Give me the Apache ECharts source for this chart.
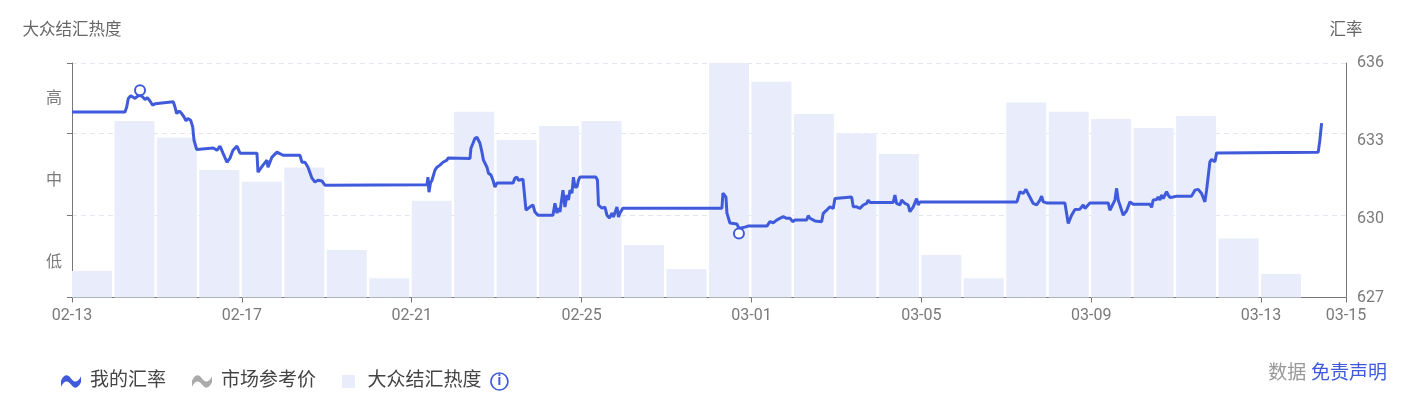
<!DOCTYPE html>
<html><head><meta charset="utf-8">
<script src="https://cdn.jsdelivr.net/npm/echarts@6/dist/echarts.min.js"></script>
<style>html,body{margin:0;padding:0;background:#fff}#c{width:1416px;height:396px}</style>
</head><body><div id="c"></div>
<script>
// ---- data ----
const heatDates = ['02-13','02-14','02-15','02-16','02-17','02-18','02-19','02-20','02-21','02-22','02-23','02-24','02-25','02-26','02-27','02-28',
  '03-01','03-02','03-03','03-04','03-05','03-06','03-07','03-08','03-09','03-10','03-11','03-12','03-13'];
const heatValues = [11.3,75.3,68.2,54.4,49.4,55.4,20.3,8.2,41.3,79.2,67.2,73.1,75.3,22.4,12.2,100,
  92.0,78.3,70.0,61.2,18.1,8.2,83.2,79.2,76.1,72.3,77.4,25.2,10.0];
const heatLevels = ['低','中','高'];
const heatLevelValues = [14.7, 49.7, 84.7];

const rateTimes = [
 '02-13 00:00','02-14 05:57','02-14 06:55','02-14 07:49','02-14 09:10','02-14 10:18','02-14 11:36','02-14 12:54','02-14 14:26','02-14 15:57',
 '02-14 17:15','02-14 18:33','02-14 20:05','02-14 21:36','02-14 22:54','02-14 23:52','02-15 09:15','02-15 10:13','02-15 11:10','02-15 12:38',
 '02-15 13:59','02-15 15:17','02-15 16:25','02-15 17:23','02-15 19:05','02-15 20:13','02-15 20:56','02-15 22:28','02-15 23:22','02-16 07:51',
 '02-16 09:56','02-16 11:38','02-16 13:20','02-16 15:35','02-16 17:17','02-16 18:59','02-16 21:14','02-16 22:56','02-17 08:32','02-17 09:07',
 '02-17 11:56','02-17 14:11','02-17 14:46','02-17 17:01','02-17 19:51','02-17 23:14','02-18 08:50','02-18 09:58','02-18 11:40','02-18 13:22',
 '02-18 15:37','02-18 17:19','02-18 19:01','02-18 21:17','02-18 22:58','02-21 08:37','02-21 09:11','02-21 09:44','02-21 10:35','02-21 11:26',
 '02-21 12:17','02-21 13:08','02-21 14:16','02-21 15:58','02-21 17:39','02-21 19:55','02-21 20:29','02-22 08:55','02-22 09:28','02-22 10:37',
 '02-22 11:44','02-22 12:52','02-22 14:34','02-22 15:41','02-22 16:32','02-22 18:31','02-22 19:22','02-22 20:47','02-22 21:55','02-22 23:02',
 '02-23 00:10','02-23 09:13','02-23 10:20','02-23 11:28','02-23 12:19','02-23 14:52','02-23 16:34','02-23 17:41','02-23 19:23','02-23 20:31',
 '02-23 21:38','02-23 23:20','02-24 07:49','02-24 08:56','02-24 10:04','02-24 10:55','02-24 11:46','02-24 13:28','02-24 14:35','02-24 15:43',
 '02-24 16:34','02-24 17:25','02-24 18:33','02-24 19:24','02-24 20:15','02-24 21:23','02-24 22:13','02-24 23:04','02-25 08:07','02-25 08:58',
 '02-25 09:32','02-25 11:30','02-25 13:12','02-25 14:20','02-25 15:44','02-25 17:09','02-25 18:00','02-25 19:59','02-25 20:50','02-25 21:40',
 '02-25 23:22','02-28 07:19','02-28 07:53','02-28 08:44','02-28 09:35','02-28 10:08','02-28 11:50','02-28 15:47','02-28 16:55','02-28 20:19',
 '02-28 22:01','03-01 08:44','03-01 10:26','03-01 12:18','03-01 14:14','03-01 16:05','03-01 17:58','03-01 19:53','03-01 21:44','03-01 23:16',
 '03-02 00:34','03-02 07:11','03-02 08:05','03-02 09:02','03-02 11:52','03-02 15:40','03-02 16:34','03-02 18:29','03-02 19:23','03-02 20:21',
 '03-02 22:13','03-02 23:10','03-03 00:08','03-03 08:37','03-03 09:31','03-03 11:26','03-03 13:18','03-03 14:16','03-03 15:10','03-03 17:05',
 '03-03 17:59','03-03 18:57','03-04 08:07','03-04 09:05','03-04 10:02','03-04 10:56','03-04 11:54','03-04 12:52','03-04 14:44','03-04 16:35',
 '03-04 17:33','03-04 19:25','03-04 21:20','03-04 22:15','03-04 23:12','03-07 06:01','03-07 07:43','03-07 09:35','03-07 11:07','03-07 12:25',
 '03-07 13:22','03-07 15:14','03-07 17:09','03-07 18:04','03-07 19:01','03-07 19:59','03-07 20:53','03-07 22:48','03-08 09:08','03-08 11:01',
 '03-08 12:56','03-08 14:48','03-08 17:37','03-08 19:29','03-08 20:27','03-08 21:25','03-08 23:16','03-09 09:37','03-09 10:34','03-09 11:32',
 '03-09 13:24','03-09 14:22','03-09 15:16','03-09 16:13','03-09 18:05','03-09 20:01','03-09 21:53','03-09 23:44','03-10 09:11','03-10 10:08',
 '03-10 11:02','03-10 12:58','03-10 13:52','03-10 14:50','03-10 15:47','03-10 16:42','03-10 18:37','03-10 19:31','03-10 20:29','03-10 22:21',
 '03-11 00:16','03-11 08:44','03-11 10:37','03-11 12:28','03-11 14:23','03-11 16:16','03-11 17:13','03-11 19:05','03-11 20:02','03-11 21:55',
 '03-11 22:52','03-14 08:17','03-14 09:14','03-14 10:13'];
const rateValues = [
 634.12,634.12,634.31,634.64,634.74,634.70,634.64,634.72,634.76,634.70,
 634.60,634.67,634.54,634.38,634.44,634.51,634.51,634.31,634.06,634.16,
 634.06,633.93,633.78,633.87,633.80,633.55,633.04,632.68,632.74,632.74,
 632.65,632.81,632.54,632.19,632.35,632.65,632.81,632.54,632.54,631.81,
 632.08,632.27,632.00,632.39,632.58,632.46,632.46,632.19,632.19,632.00,
 631.58,631.43,631.50,631.47,631.31,631.33,631.62,631.04,631.39,631.50,
 631.43,631.89,632.00,632.08,632.19,632.27,632.35,632.33,632.73,632.92,
 633.11,633.15,632.92,632.58,632.27,632.00,631.77,631.70,631.50,631.24,
 631.39,631.39,631.58,631.62,631.50,631.54,630.35,630.28,630.51,630.55,
 630.28,630.16,630.16,630.62,630.24,630.43,630.28,631.12,630.47,630.93,
 630.74,631.12,631.01,631.62,631.24,631.24,631.50,631.62,631.62,631.50,
 630.55,630.43,630.47,630.16,630.05,630.24,630.09,630.47,630.09,630.24,
 630.43,630.43,631.01,631.04,630.85,630.24,629.86,629.82,629.65,629.70,
 629.74,629.74,629.91,629.87,629.97,630.04,630.10,630.04,630.04,629.91,
 629.97,629.97,630.14,630.04,629.94,629.91,630.23,630.35,630.42,630.48,
 630.42,630.80,630.86,630.86,630.48,630.48,630.42,630.35,630.55,630.61,
 630.74,630.65,630.65,630.93,630.61,630.67,630.55,630.74,630.61,630.55,
 630.29,630.48,630.80,630.55,630.67,630.67,631.06,630.99,631.15,630.97,
 630.93,630.61,630.55,630.61,630.74,630.89,630.67,630.63,630.63,629.84,
 630.16,630.38,630.39,630.55,630.42,630.38,630.63,630.63,630.35,630.29,
 630.74,631.19,630.74,630.55,630.16,630.33,630.67,630.58,630.58,630.46,
 630.74,630.76,630.86,630.74,630.93,630.80,631.06,630.93,630.84,630.86,
 630.89,630.89,631.12,631.15,630.99,630.67,631.12,632.21,632.30,632.21,
 632.55,632.57,633.04,633.69];
const marketValues = []; // 市场参考价: hidden under 我的汇率 in the picture

const YEAR = 2026;
const START = Date.UTC(YEAR, 1, 13);
const DAY = 86400000;
function dayOffset(s) {
  const parts = s.split(' ');
  const md = parts[0].split('-').map(Number);
  const hm = (parts[1] || '00:00').split(':').map(Number);
  return (Date.UTC(YEAR, md[0] - 1, md[1], hm[0], hm[1]) - START) / DAY;
}
function fmtDay(v) {
  const d = new Date(START + Math.round(v) * DAY);
  const p = n => (n < 10 ? '0' : '') + n;
  return p(d.getUTCMonth() + 1) + '-' + p(d.getUTCDate());
}

const BLUE = '#3f5bdc';
const AXIS = '#777';
const LABEL = '#7a7a7a';
const FONT = 'Roboto, "Noto Sans CJK SC", sans-serif';
const WAVE = 'path://M0,7 C3,1 6,1 9,5 C12,9 15,9 18,3 L18,8.5 C15,14.5 12,14.5 9,10.5 C6,6.5 3,6.5 0,12.5 Z';

const chart = echarts.init(document.getElementById('c'), null, {renderer: 'canvas'});
chart.setOption({
  animation: false,
  textStyle: {fontFamily: FONT},
  grid: {left: 72, right: 70, top: 63, bottom: 98.5, containLabel: false},
  legend: {
    left: 56, top: 367, itemWidth: 20, itemHeight: 13, itemGap: 26,
    textStyle: {color: '#444', fontSize: 19, fontFamily: FONT,
      rich: {
        t: {color: '#444', fontSize: 19, fontFamily: FONT, padding: [0, 0, 0, 4]},
        i: {color: BLUE, fontSize: 14, fontWeight: 'bold', width: 17, height: 17, lineHeight: 17,
            align: 'center', borderColor: BLUE, borderWidth: 1.7, borderRadius: 11}
      }},
    formatter: name => name === '大众结汇热度' ? '{t|大众结汇热度}  {i|i}' : '{t|' + name + '}',
    data: [
      {name: '我的汇率', icon: WAVE},
      {name: '市场参考价', icon: WAVE},
      {name: '大众结汇热度', icon: 'path://M0,0H10V10H0Z'}
    ]
  },
  graphic: [{
    type: 'text', right: 29, top: 365,
    style: {text: '{a|数据} {b|免责声明}', font: '19px ' + FONT,
      rich: {a: {fill: '#999', fontSize: 19, fontFamily: FONT}, b: {fill: BLUE, fontSize: 19, fontFamily: FONT}}}
  }],
  xAxis: {
    type: 'value', min: 0, max: 30, interval: 4,
    axisLine: {show: true, lineStyle: {color: AXIS}},
    axisTick: {show: true, length: 5, lineStyle: {color: AXIS}},
    axisLabel: {formatter: fmtDay, color: LABEL, fontSize: 16, margin: 10, fontFamily: FONT},
    splitLine: {show: false}
  },
  yAxis: [{
    type: 'value', min: 0, max: 100, interval: 35, position: 'left',
    name: '大众结汇热度', nameLocation: 'end', nameGap: 24,
    nameTextStyle: {color: '#666', fontSize: 16.5, fontFamily: FONT, align: 'center'},
    axisLine: {show: true, lineStyle: {color: AXIS}},
    axisTick: {show: true, length: 5, lineStyle: {color: AXIS}},
    axisLabel: {customValues: heatLevelValues, formatter: v => heatLevels[heatLevelValues.indexOf(v)] || '',
      color: LABEL, fontSize: 16, margin: 10, fontFamily: FONT},
    splitLine: {show: true, lineStyle: {color: '#e2e6f0', type: [5, 4], width: 1}}
  }, {
    type: 'value', min: 627, max: 636, interval: 3, position: 'right',
    name: '汇率', nameLocation: 'end', nameGap: 24,
    nameTextStyle: {color: '#666', fontSize: 16.5, fontFamily: FONT, align: 'center'},
    axisLine: {show: true, lineStyle: {color: AXIS}},
    axisTick: {show: false},
    axisLabel: {color: LABEL, fontSize: 16, margin: 11, fontFamily: FONT},
    splitLine: {show: false}
  }],
  series: [{
    name: '大众结汇热度', type: 'bar', yAxisIndex: 0, barWidth: 40,
    itemStyle: {color: '#e9edfb'},
    data: heatDates.map((d, i) => [dayOffset(d) + 0.47, heatValues[i]]),
    z: 1
  }, {
    name: '市场参考价', type: 'line', yAxisIndex: 1, showSymbol: false,
    itemStyle: {color: '#aaaaaa'}, lineStyle: {color: '#aaaaaa', width: 2},
    data: marketValues, z: 2
  }, {
    name: '我的汇率', type: 'line', yAxisIndex: 1, showSymbol: false,
    itemStyle: {color: BLUE}, lineStyle: {color: BLUE, width: 3},
    data: rateTimes.map((t, i) => [dayOffset(t), rateValues[i]]),
    z: 3,
    markPoint: {
      symbol: 'circle', symbolSize: 10,
      itemStyle: {color: '#fff', borderColor: BLUE, borderWidth: 2},
      label: {show: false},
      data: [{type: 'max', symbolOffset: [0, -5]}, {type: 'min', symbolOffset: [0, 5]}]
    }
  }]
});
</script></body></html>
